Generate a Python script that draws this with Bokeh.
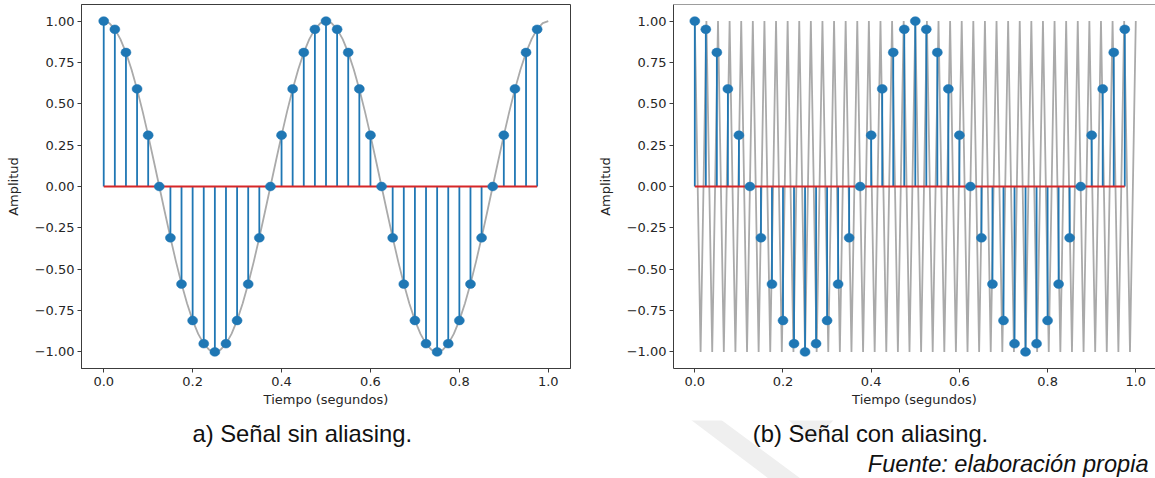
from bokeh.plotting import figure
from bokeh.layouts import column, row
from bokeh.models import Range1d, FixedTicker, CustomJSTickFormatter, Span, Label, ColumnDataSource
from bokeh.embed import file_html
from bokeh.resources import INLINE

# ---------------- data ----------------
sample_t = [0.000, 0.025, 0.050, 0.075, 0.100, 0.125, 0.150, 0.175, 0.200, 0.225,
            0.250, 0.275, 0.300, 0.325, 0.350, 0.375, 0.400, 0.425, 0.450, 0.475,
            0.500, 0.525, 0.550, 0.575, 0.600, 0.625, 0.650, 0.675, 0.700, 0.725,
            0.750, 0.775, 0.800, 0.825, 0.850, 0.875, 0.900, 0.925, 0.950, 0.975]
sample_y = [1.00, 0.95, 0.81, 0.59, 0.31, 0.00, -0.31, -0.59, -0.81, -0.95,
            -1.00, -0.95, -0.81, -0.59, -0.31, 0.00, 0.31, 0.59, 0.81, 0.95,
            1.00, 0.95, 0.81, 0.59, 0.31, 0.00, -0.31, -0.59, -0.81, -0.95,
            -1.00, -0.95, -0.81, -0.59, -0.31, 0.00, 0.31, 0.59, 0.81, 0.95]

# continuous 2 Hz signal (panel a), read every 0.0125 s
curve_a_step = 0.0125
curve_a_y = [1.000, 0.988, 0.951, 0.891, 0.809, 0.707, 0.588, 0.454, 0.309, 0.156,
             0.000, -0.156, -0.309, -0.454, -0.588, -0.707, -0.809, -0.891, -0.951, -0.988,
             -1.000, -0.988, -0.951, -0.891, -0.809, -0.707, -0.588, -0.454, -0.309, -0.156,
             0.000, 0.156, 0.309, 0.454, 0.588, 0.707, 0.809, 0.891, 0.951, 0.988,
             1.000, 0.988, 0.951, 0.891, 0.809, 0.707, 0.588, 0.454, 0.309, 0.156,
             0.000, -0.156, -0.309, -0.454, -0.588, -0.707, -0.809, -0.891, -0.951, -0.988,
             -1.000, -0.988, -0.951, -0.891, -0.809, -0.707, -0.588, -0.454, -0.309, -0.156,
             0.000, 0.156, 0.309, 0.454, 0.588, 0.707, 0.809, 0.891, 0.951, 0.988,
             1.000]
curve_a_t = [i * curve_a_step for i in range(len(curve_a_y))]

# fast 38 Hz signal (panel b): successive peaks and troughs
curve_b_step = 1.0 / 76
curve_b_y = [1, -1, 1, -1, 1, -1, 1, -1, 1, -1, 1, -1, 1, -1, 1, -1, 1, -1, 1, -1,
             1, -1, 1, -1, 1, -1, 1, -1, 1, -1, 1, -1, 1, -1, 1, -1, 1, -1, 1, -1,
             1, -1, 1, -1, 1, -1, 1, -1, 1, -1, 1, -1, 1, -1, 1, -1, 1, -1, 1, -1,
             1, -1, 1, -1, 1, -1, 1, -1, 1, -1, 1, -1, 1, -1, 1, -1, 1]
curve_b_t = [i * curve_b_step for i in range(len(curve_b_y))]

x_ticks = [0.0, 0.2, 0.4, 0.6, 0.8, 1.0]
y_ticks = [-1.0, -0.75, -0.5, -0.25, 0.0, 0.25, 0.5, 0.75, 1.0]

x_label = "Tiempo (segundos)"
y_label = "Amplitud"
caption_a = "a) Señal sin aliasing."
caption_b = "(b) Señal con aliasing."
source_note = "Fuente: elaboración propia"

# ---------------- style ----------------
BLUE = "#1f77b4"
RED = "#d62728"
GRAY = "#aaaaaa"
SPINE = "#3c3c3c"
TXT = "#262626"
FONT = "DejaVu Sans"
FS = "13px"

stem_src = ColumnDataSource(dict(t=sample_t, y=sample_y, zero=[0.0] * len(sample_t)))


def make_panel(width, border_left, border_right, x_start, x_end, curve_t, curve_y, full_outline):
    p = figure(width=width, height=420,
               x_range=Range1d(x_start, x_end),
               y_range=Range1d(-1.1, 1.1),
               output_backend="svg", toolbar_location=None,
               min_border_left=border_left, min_border_right=border_right,
               min_border_top=4, min_border_bottom=52)
    p.grid.visible = False
    p.background_fill_color = "white"
    p.border_fill_color = "white"
    if full_outline:
        p.outline_line_color = SPINE
        p.outline_line_width = 1
    else:
        p.outline_line_color = None
        p.add_layout(Span(location=1.1, dimension="width", line_color=SPINE, line_width=1))

    p.line(curve_t, curve_y, line_color=GRAY, line_width=1.8)
    p.segment(x0="t", y0="zero", x1="t", y1="y", source=stem_src,
              line_color=BLUE, line_width=1.8)
    p.segment(x0=[sample_t[0]], y0=[0.0], x1=[sample_t[-1]], y1=[0.0],
              line_color=RED, line_width=2)
    p.ellipse(x="t", y="y", width=10, height=8.8, width_units="screen",
              height_units="screen", source=stem_src,
              fill_color=BLUE, line_color=BLUE, line_width=0.5)

    p.xaxis.ticker = FixedTicker(ticks=x_ticks)
    p.yaxis.ticker = FixedTicker(ticks=y_ticks)
    p.xaxis.formatter = CustomJSTickFormatter(code="return tick.toFixed(1).replace('-', '\u2212');")
    p.yaxis.formatter = CustomJSTickFormatter(code="return tick.toFixed(2).replace('-', '\u2212');")
    for ax in (p.xaxis, p.yaxis):
        ax.axis_line_color = SPINE
        ax.axis_line_width = 1
        ax.major_tick_line_color = SPINE
        ax.major_tick_in = 0
        ax.major_tick_out = 4
        ax.minor_tick_line_color = None
        ax.major_label_text_font = FONT
        ax.major_label_text_font_size = FS
        ax.major_label_text_color = TXT
        ax.axis_label_text_font = FONT
        ax.axis_label_text_font_size = FS
        ax.axis_label_text_font_style = "normal"
        ax.axis_label_text_color = TXT
    p.xaxis.axis_label = x_label
    p.yaxis.axis_label = y_label
    p.xaxis.major_label_standoff = 4
    p.xaxis.axis_label_standoff = 3
    p.yaxis.major_label_standoff = 3
    p.yaxis.axis_label_standoff = 11
    return p


p1 = make_panel(590, 81, 20, -0.05, 1.05, curve_a_t, curve_a_y, True)
p2 = make_panel(565, 83, 0, -0.0483, 1.0447, curve_b_t, curve_b_y, False)

p3 = figure(width=1155, height=58, x_range=Range1d(0, 1155), y_range=Range1d(58, 0),
            x_axis_type=None, y_axis_type=None, output_backend="svg",
            toolbar_location=None, min_border=0, outline_line_color=None)
p3.grid.visible = False

# faint watermark fragments visible under the figures
p3.patches(xs=[[678, 708, 800, 768], [778, 842, 812]],
           ys=[[-10, -10, 58, 58], [-10, -10, 22]],
           fill_color="#efefef", line_color=None)

CAP_FONT = "Liberation Sans"
p3.add_layout(Label(x=301.7, y=12.7, text=caption_a, text_align="center",
                    text_baseline="alphabetic", text_font=CAP_FONT,
                    text_font_size="23.8px", text_color="#111111"))
p3.add_layout(Label(x=870, y=12.7, text=caption_b, text_align="center",
                    text_baseline="alphabetic", text_font=CAP_FONT,
                    text_font_size="23.8px", text_color="#111111"))
p3.add_layout(Label(x=1148, y=43, text=source_note, text_align="right",
                    text_baseline="alphabetic", text_font=CAP_FONT,
                    text_font_style="italic",
                    text_font_size="23.6px", text_color="#111111"))

layout = column(row(p1, p2), p3)
open("out.html", "w").write(file_html(layout, INLINE))
